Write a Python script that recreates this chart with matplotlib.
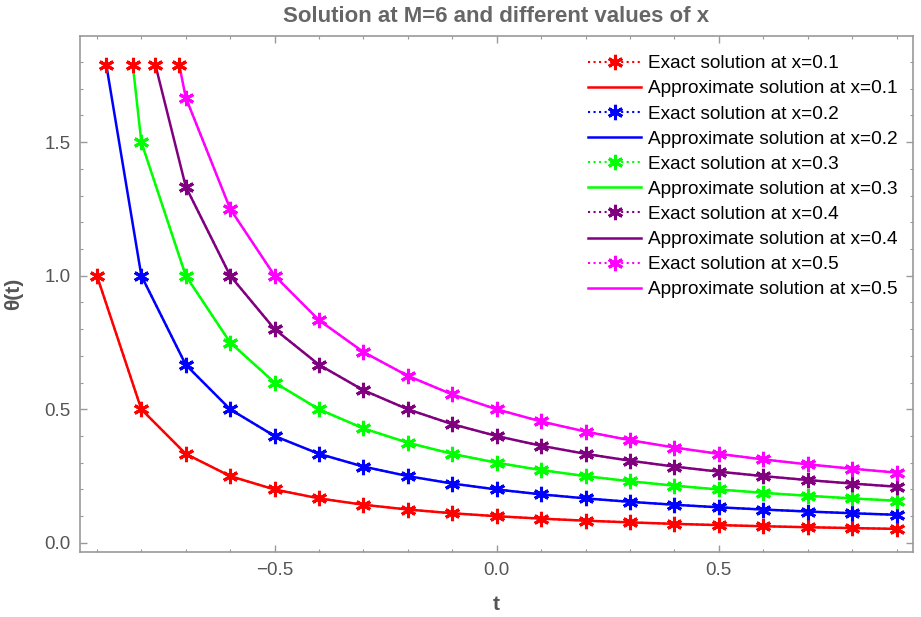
import numpy as np
import matplotlib.pyplot as plt
from matplotlib.ticker import MultipleLocator

plt.rcParams['font.family'] = ['Liberation Sans', 'DejaVu Sans']

# sample times and theta(t) values for each x
t = [-0.9, -0.8, -0.7, -0.6, -0.5, -0.4, -0.3, -0.2, -0.1, 0.0,
     0.1, 0.2, 0.3, 0.4, 0.5, 0.6, 0.7, 0.8, 0.9]

theta_x01 = [1.0, 0.5, 0.3333, 0.25, 0.2, 0.1667, 0.1429, 0.125, 0.1111, 0.1,
             0.0909, 0.0833, 0.0769, 0.0714, 0.0667, 0.0625, 0.0588, 0.0556, 0.0526]
theta_x02 = [2.0, 1.0, 0.6667, 0.5, 0.4, 0.3333, 0.2857, 0.25, 0.2222, 0.2,
             0.1818, 0.1667, 0.1538, 0.1429, 0.1333, 0.125, 0.1176, 0.1111, 0.1053]
theta_x03 = [3.0, 1.5, 1.0, 0.75, 0.6, 0.5, 0.4286, 0.375, 0.3333, 0.3,
             0.2727, 0.25, 0.2308, 0.2143, 0.2, 0.1875, 0.1765, 0.1667, 0.1579]
theta_x04 = [4.0, 2.0, 1.3333, 1.0, 0.8, 0.6667, 0.5714, 0.5, 0.4444, 0.4,
             0.3636, 0.3333, 0.3077, 0.2857, 0.2667, 0.25, 0.2353, 0.2222, 0.2105]
theta_x05 = [5.0, 2.5, 1.6667, 1.25, 1.0, 0.8333, 0.7143, 0.625, 0.5556, 0.5,
             0.4545, 0.4167, 0.3846, 0.3571, 0.3333, 0.3125, 0.2941, 0.2778, 0.2632]

x_labels = ["0.1", "0.2", "0.3", "0.4", "0.5"]
series = [theta_x01, theta_x02, theta_x03, theta_x04, theta_x05]
colors = ["#ff0000", "#0000ff", "#00ff00", "#800080", "#ff00ff"]

clip_top = 1.788
star = (6, 2, 0)


def clip_series(t, y, top):
    # cut the curve where it leaves the plot range at the top
    t = np.asarray(t)
    y = np.asarray(y)
    first = int(np.argmax(y <= top))
    if first == 0:
        return t, y, None
    t0 = np.interp(top, [y[first], y[first - 1]], [t[first], t[first - 1]])
    return np.r_[t0, t[first:]], np.r_[top, y[first:]], t0


fig = plt.figure(figsize=(9.21, 6.17), dpi=100)
ax = fig.add_axes([0.0869, 0.1053, 0.9044, 0.8368])

top_marks = []
for lab, y, c in zip(x_labels, series, colors):
    tc, yc, t0 = clip_series(t, y, clip_top)
    keep = np.asarray(y) <= clip_top
    ax.plot(np.asarray(t)[keep], np.asarray(y)[keep], linestyle=':', color=c,
            marker=star, markersize=11, markeredgewidth=2.2, linewidth=1.5,
            label="Exact solution at x=" + lab, zorder=3)
    ax.plot(tc, yc, '-', color=c, linewidth=1.8,
            label="Approximate solution at x=" + lab, zorder=2)
    if t0 is not None:
        top_marks.append(t0)

# points leaving the range are marked on the upper edge
ax.plot(top_marks, [clip_top] * len(top_marks), linestyle='none', color='#ff0000',
        marker=star, markersize=11, markeredgewidth=2.2, zorder=4)

ax.set_xlim(-0.938, 0.937)
ax.set_ylim(-0.034, 1.898)
ax.xaxis.set_major_locator(MultipleLocator(0.5))
ax.xaxis.set_minor_locator(MultipleLocator(0.1))
ax.yaxis.set_major_locator(MultipleLocator(0.5))
ax.yaxis.set_minor_locator(MultipleLocator(0.1))
ax.xaxis.set_major_formatter(lambda v, p: f"{v:.1f}".replace("-", "\u2212"))
ax.yaxis.set_major_formatter(lambda v, p: f"{v:.1f}")

ax.tick_params(which='both', direction='in', top=True, right=True,
               color='#999999', labelcolor='#555555', labelsize=13.5)
ax.tick_params(which='major', length=5, width=1, pad=7)
ax.tick_params(which='minor', length=2.5, width=0.8)
for s in ax.spines.values():
    s.set_color('#999999')
    s.set_linewidth(1.2)

ax.set_title("Solution at M=6 and different values of x", fontsize=16,
             fontweight='bold', color='#666666', pad=10)
ax.set_xlabel("t", fontsize=15, fontweight='bold', color='#555555', labelpad=12)
ax.set_ylabel("\u03b8(t)", fontsize=15, fontweight='bold', color='#555555', labelpad=15)

ax.legend(loc='upper left', bbox_to_anchor=(588 / 921, 1 - 55 / 617),
          bbox_transform=fig.transFigure, frameon=False, fontsize=13.7,
          handlelength=2.8, handletextpad=0.35, labelspacing=0.41,
          borderpad=0, borderaxespad=0, numpoints=1)

fig.savefig("out.png", dpi=100)
